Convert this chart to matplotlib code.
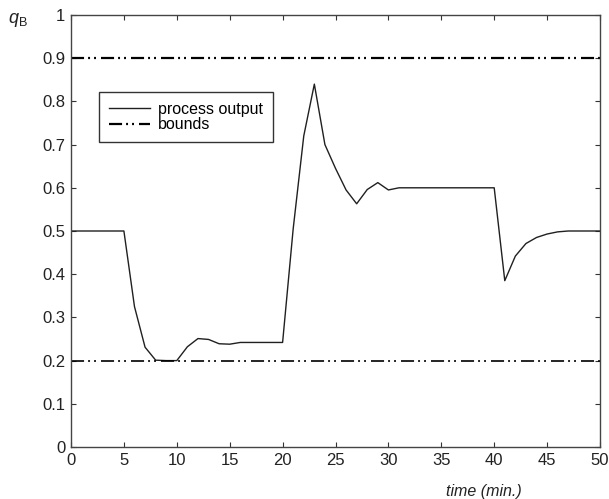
import matplotlib
matplotlib.use('Agg')
from matplotlib import pyplot as plt

# process output sampled once per minute
time = list(range(0, 51))
q_b = [0.5, 0.5, 0.5, 0.5, 0.5, 0.5,
       0.325, 0.231, 0.201, 0.2, 0.2,
       0.232, 0.251, 0.249, 0.239, 0.238,
       0.242, 0.242, 0.242, 0.242, 0.242,
       0.505, 0.72, 0.84, 0.70, 0.645,
       0.595, 0.563, 0.596, 0.612, 0.595,
       0.6, 0.6, 0.6, 0.6, 0.6, 0.6, 0.6, 0.6, 0.6, 0.6,
       0.385, 0.442, 0.471, 0.485, 0.493,
       0.498, 0.5, 0.5, 0.5, 0.5]
upper_bound = 0.9
lower_bound = 0.2

xticks = list(range(0, 51, 5))
yticks = [0, 0.1, 0.2, 0.3, 0.4, 0.5, 0.6, 0.7, 0.8, 0.9, 1]
ytick_labels = ['0', '0.1', '0.2', '0.3', '0.4', '0.5', '0.6', '0.7', '0.8', '0.9', '1']

plt.rcParams['font.family'] = ['Liberation Sans', 'DejaVu Sans']
plt.rcParams['mathtext.fontset'] = 'custom'
plt.rcParams['mathtext.rm'] = 'Liberation Sans'
plt.rcParams['mathtext.it'] = 'Liberation Sans:italic'
plt.rcParams['lines.scale_dashes'] = False

fig = plt.figure(figsize=(6.09, 4.99), dpi=100)
ax = fig.add_axes([71/609, 1 - 447/499, 529/609, 432/499])

dash = (9.4, 2.9, 1.4, 2.9, 1.4, 3.6)
ax.plot(time, q_b, color='#202020', lw=1.0, label='process output')
ax.axhline(upper_bound, color='black', lw=1.6, dashes=dash, label='bounds')
ax.axhline(lower_bound, color='black', lw=1.2, dashes=dash)

ax.set_xlim(0, 50)
ax.set_ylim(0, 1)
ax.set_xticks(xticks)
ax.set_yticks(yticks)
ax.set_yticklabels(ytick_labels)
ax.tick_params(direction='in', length=3.5, width=0.8, top=True, right=True,
               labelsize=12, colors='#333333', labelcolor='#222222', pad=4)
for s in ax.spines.values():
    s.set_color('#444444')
    s.set_linewidth(1.0)

ax.set_xlabel('time (min.)', fontsize=11.5, style='italic', color='#222222')
ax.xaxis.set_label_coords(0.78, -0.085)

# y-axis name sits in the top-left corner, clear of the tick labels
fig.text(8/609, 1 - 20/499, r'$q_{\mathrm{B}}$', fontsize=13, ha='left', va='center',
         color='#222222')

leg = ax.legend(loc='upper left', bbox_to_anchor=((99 - 71)/529, (447 - 92)/432),
                frameon=True, fancybox=False, fontsize=11.5, handlelength=2.6,
                handletextpad=0.5, borderpad=0.6, labelspacing=0.05, borderaxespad=0)
leg.get_frame().set_edgecolor('black')
leg.get_frame().set_linewidth(1.0)

plt.savefig('out.png', dpi=100)
